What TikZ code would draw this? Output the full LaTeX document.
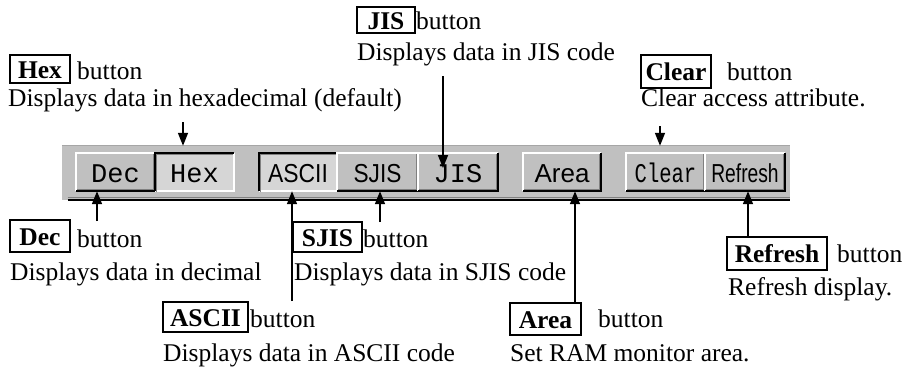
\documentclass[tikz,border=0pt]{standalone}
\usepackage{fontspec}
\usepackage{graphicx}
\setmainfont{Liberation Serif}
\newfontfamily\btnmono{Liberation Mono}
\newfontfamily\btnsans{Liberation Sans}
\usetikzlibrary{arrows.meta}
\definecolor{panelgray}{HTML}{C0C0C0}
\definecolor{pressgray}{HTML}{D6D6D6}
\definecolor{shadegray}{HTML}{808080}
\newcommand\bevelraised[1]{%
  \draw[white, line width=1.5pt] (#1.south west) -- (#1.north west) -- (#1.north east);
  \draw[shadegray, line width=1.2pt] ([xshift=-2pt,yshift=-1pt]#1.north east) -- ([xshift=-2pt,yshift=2pt]#1.south east) -- ([xshift=1pt,yshift=2pt]#1.south west);
  \draw[black, line width=1.5pt] (#1.north east) -- (#1.south east) -- (#1.south west);
}
\newcommand\bevelpressed[1]{%
  \draw[white, line width=1.5pt] (#1.north east) -- (#1.south east) -- (#1.south west);
  \draw[shadegray, line width=1.2pt] ([xshift=2pt,yshift=-1pt]#1.south west) -- ([xshift=2pt,yshift=-2pt]#1.north west) -- ([xshift=-1pt,yshift=-2pt]#1.north east);
  \draw[black, line width=1.5pt] (#1.south west) -- (#1.north west) -- (#1.north east);
}
\begin{document}
\begin{tikzpicture}[x=1pt,y=-1pt,
  lbl/.style={inner sep=0pt, anchor=base west, font=\fontsize{25.5}{30}\selectfont},
  lblbox/.style={draw, line width=1.4pt, inner sep=0pt, text height=18pt, text depth=0pt,
    font=\fontsize{25.5}{30}\selectfont\bfseries},
  btn/.style={inner sep=0pt, minimum height=38pt, fill=panelgray, text height=20pt, text depth=0pt,
    font=\fontsize{27}{30}\btnmono},
  btnsf/.style={btn, font=\fontsize{26}{30}\btnsans},
  pressed/.style={fill=pressgray},
  panelbox/.style={inner sep=0pt, fill=panelgray},
  arr/.style={line width=1.6pt, -{Triangle[length=13pt,width=10pt]}}]
\useasboundingbox (0,0) rectangle (906,367);

% toolbar panel
\node[panelbox, minimum width=728pt, minimum height=54pt] (panel) at (426,173) {};
\draw[shadegray!70, line width=1.2pt] (panel.north west) -- (panel.north east);
\draw[white, line width=1pt] (panel.north west) -- (panel.south west);
\draw[shadegray, line width=1pt] ([xshift=6pt,yshift=3pt]panel.south west) -- ([yshift=3pt]panel.south east);
\draw[black, line width=1.5pt] ([xshift=6pt]panel.south west) -- (panel.south east);

% buttons
\node[btn, minimum width=79pt] (bdec) at (115.5,172) {Dec};
\node[btn, pressed, minimum width=79pt] (bhex) at (194.5,172) {Hex};
\node[btnsf, pressed, minimum width=78pt] (bascii) at (298,172) {\scalebox{0.88}[1]{ASCII}};
\node[btnsf, minimum width=81pt] (bsjis) at (377.5,172) {\scalebox{0.87}[1]{SJIS}};
\node[btn, minimum width=80pt] (bjis) at (458,172) {JIS};
\node[btnsf, minimum width=78pt] (barea) at (562,172) {Area};
\node[btn, minimum width=79pt] (bclear) at (665.5,172) {\scalebox{0.76}[1]{Clear}};
\node[btnsf, minimum width=80pt] (brefresh) at (745,172) {\scalebox{0.74}[1]{Refresh}};
\bevelraised{bdec}
\bevelpressed{bhex}
\bevelpressed{bascii}
\bevelraised{bsjis}
\bevelraised{bjis}
\bevelraised{barea}
\bevelraised{bclear}
\bevelraised{brefresh}

% Hex label
\node[lblbox, minimum width=60pt, minimum height=28pt] (lhex) at (40,69) {Hex};
\node[lbl] (lhexb) at (77,79) {button};
\node[lbl] (lhexd) at (8,106) {Displays data in hexadecimal (default)};
% JIS label
\node[lblbox, minimum width=58pt, minimum height=26pt] (ljis) at (386,20) {JIS};
\node[lbl] (ljisb) at (416,29) {button};
\node[lbl] (ljisd) at (357,60) {Displays data in JIS code};
% Clear label
\node[lblbox, minimum width=70pt, minimum height=33pt] (lclear) at (676,71.5) {Clear};
\node[lbl] (lclearb) at (727,80) {button};
\node[lbl] (lcleard) at (641,106) {Clear access attribute.};
% Dec label
\node[lblbox, minimum width=60pt, minimum height=32pt] (ldec) at (40,236) {Dec};
\node[lbl] (ldecb) at (77,247) {button};
\node[lbl] (ldecd) at (10,280) {Displays data in decimal};
% SJIS label
\node[lblbox, minimum width=69pt, minimum height=30pt] (lsjis) at (327.5,237) {SJIS};
\node[lbl] (lsjisb) at (363,247) {button};
\node[lbl] (lsjisd) at (294,280) {Displays data in SJIS code};
% ASCII label
\node[lblbox, minimum width=85pt, minimum height=30pt] (lascii) at (205.5,317) {ASCII};
\node[lbl] (lasciib) at (250,327) {button};
\node[lbl] (lasciid) at (163,361) {Displays data in ASCII code};
% Area label
\node[lblbox, minimum width=71pt, minimum height=32pt] (larea) at (545.5,319) {Area};
\node[lbl] (lareab) at (598,327) {button};
\node[lbl] (laread) at (510,361) {Set RAM monitor area.};
% Refresh label
\node[lblbox, minimum width=100pt, minimum height=33pt] (lrefresh) at (777,253.5) {Refresh};
\node[lbl] (lrefreshb) at (837,262) {button};
\node[lbl] (lrefreshd) at (728,295) {Refresh display.};

% connectors
\coordinate (chex) at (183,122);
\coordinate (cjis) at (443,76);
\coordinate (cjisend) at (443,168);
\coordinate (cclear) at (660,126);
\coordinate (cdec) at (97,221);
\coordinate (cascii) at (292,301);
\coordinate (csjis) at (380,222);
\coordinate (carea) at (575,302);
\coordinate (crefresh) at (748,237);
\draw[arr] (chex) -- (chex |- panel.north);
\draw[arr] (cjis) -- (cjisend);
\draw[arr] (cclear) -- (cclear |- panel.north);
\draw[arr] (cdec) -- (cdec |- bdec.south);
\draw[arr] (cascii) -- (cascii |- bascii.south);
\draw[arr] (csjis) -- (csjis |- bsjis.south);
\draw[arr] (carea) -- (carea |- barea.south);
\draw[arr] (crefresh) -- (crefresh |- brefresh.south);
\end{tikzpicture}
\end{document}
